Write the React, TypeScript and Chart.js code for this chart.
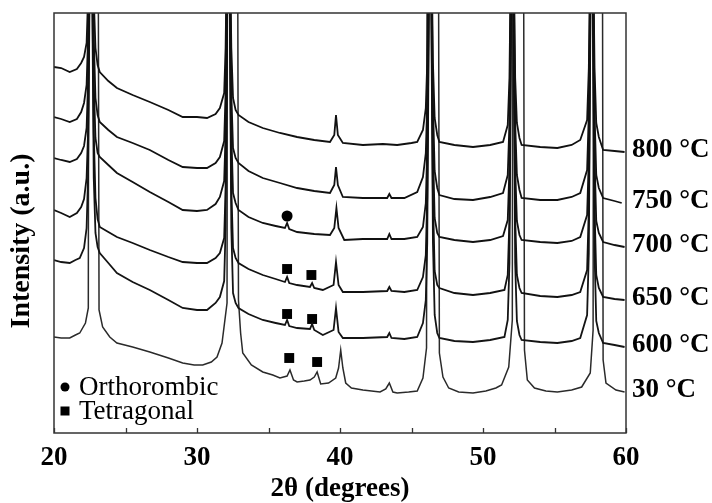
import React, { useEffect, useRef } from "react";
import { Chart, registerables } from "chart.js";

Chart.register(...registerables);

const FONT = '"Liberation Serif", "Times New Roman", Times, serif';

// X ticks (2θ, degrees)
const X_MIN = 20;
const X_MAX = 60;
const MAJOR_TICKS = [20, 30, 40, 50, 60];
const MINOR_TICKS = [25, 35, 45, 55];

// Curve labels (right side), top to bottom
const SERIES_LABELS = ["800 °C", "750 °C", "700 °C", "650 °C", "600 °C", "30 °C"];

// Intensity traces (arbitrary units, stacked offsets), [2θ, intensity]
const T800: [number, number][] = [
  [20.0, 366], [20.5, 365], [21.1, 361], [21.6, 364], [21.9, 370], [22.1, 376], [22.28, 390], [22.38, 435], [22.58, 600],
  [22.78, 435], [22.9, 385], [23.05, 368], [23.2, 361], [23.8, 352], [24.4, 345], [25.5, 338], [26.7, 331], [28.0, 323],
  [29.0, 316], [30.0, 316], [30.7, 315], [31.3, 319], [31.6, 325], [31.9, 340], [32.0, 385], [32.2, 600], [32.4, 385],
  [32.52, 335], [32.7, 323], [32.9, 318], [33.6, 311], [34.6, 305], [35.8, 300], [37.0, 296], [38.2, 293], [39.3, 291],
  [39.6, 298], [39.72, 318], [39.85, 298], [40.2, 290], [41.6, 288], [43.0, 289], [44.0, 288], [45.0, 290], [45.4, 291],
  [45.8, 303], [46.0, 325], [46.1, 370], [46.3, 600], [46.5, 370], [46.62, 315], [46.8, 298], [46.95, 291], [48.0, 288],
  [49.3, 286], [50.5, 288], [51.4, 291], [51.73, 308], [51.85, 355], [52.05, 600], [52.25, 355], [52.37, 310], [52.55, 295],
  [52.7, 288], [54.0, 286], [55.2, 285], [56.2, 288], [56.8, 293], [57.28, 313], [57.4, 365], [57.6, 600], [57.8, 365],
  [57.92, 310], [58.1, 296], [58.4, 283], [59.2, 282], [59.9, 281],
];

const T750: [number, number][] = [
  [20.0, 316], [20.5, 314], [21.1, 311], [21.6, 314], [21.9, 321], [22.1, 330], [22.28, 348], [22.38, 395], [22.58, 600],
  [22.78, 395], [22.9, 335], [23.05, 318], [23.2, 311], [23.8, 303], [24.4, 296], [25.5, 290], [26.7, 283], [28.0, 273],
  [29.0, 266], [30.0, 265], [30.7, 265], [31.3, 270], [31.6, 276], [31.9, 292], [32.0, 340], [32.2, 600], [32.4, 340],
  [32.52, 285], [32.7, 275], [32.9, 270], [33.6, 262], [34.6, 255], [35.8, 250], [37.0, 245], [38.2, 242], [39.3, 240],
  [39.6, 248], [39.72, 266], [39.85, 248], [40.2, 236], [41.6, 235], [43.3, 235], [43.45, 239], [43.6, 235], [44.5, 235],
  [45.4, 241], [45.8, 256], [46.0, 280], [46.1, 330], [46.3, 600], [46.5, 330], [46.62, 262], [46.8, 245], [46.95, 238],
  [48.0, 234], [49.3, 233], [50.5, 236], [51.4, 240], [51.73, 258], [51.85, 310], [52.05, 600], [52.25, 310], [52.37, 258],
  [52.55, 243], [52.7, 235], [54.0, 233], [55.2, 233], [56.2, 236], [56.8, 240], [57.28, 263], [57.4, 320], [57.6, 600],
  [57.8, 320], [57.92, 258], [58.1, 245], [58.4, 235], [59.2, 232], [59.7, 230],
];

const T700: [number, number][] = [
  [20.0, 275], [20.5, 273], [21.1, 271], [21.6, 274], [21.9, 280], [22.1, 287], [22.28, 305], [22.38, 350], [22.58, 600],
  [22.78, 350], [22.9, 295], [23.05, 280], [23.2, 276], [23.8, 268], [24.4, 260], [25.5, 251], [26.7, 241], [28.0, 231],
  [29.0, 223], [30.0, 222], [30.7, 223], [31.3, 229], [31.6, 236], [31.9, 252], [32.0, 300], [32.2, 600], [32.4, 300],
  [32.52, 240], [32.7, 230], [32.9, 223], [33.6, 216], [34.6, 210], [35.5, 207], [36.15, 205], [36.3, 210], [36.45, 204],
  [37.0, 201], [38.2, 199], [39.3, 198], [39.6, 205], [39.75, 225], [39.9, 205], [40.3, 193], [41.6, 194], [43.3, 194],
  [43.45, 199], [43.6, 194], [44.5, 194], [45.4, 196], [45.8, 206], [46.0, 230], [46.1, 285], [46.3, 600], [46.5, 285],
  [46.62, 215], [46.8, 200], [46.95, 196], [48.0, 193], [49.3, 191], [50.5, 193], [51.4, 197], [51.73, 213], [51.85, 265],
  [52.05, 600], [52.25, 265], [52.37, 212], [52.55, 198], [52.7, 193], [54.0, 191], [55.2, 190], [56.2, 192], [56.8, 196],
  [57.28, 218], [57.4, 275], [57.6, 600], [57.8, 275], [57.92, 212], [58.1, 200], [58.4, 191], [59.2, 188], [59.9, 186],
];

const T650: [number, number][] = [
  [20.0, 223], [20.5, 220], [21.1, 216], [21.6, 220], [21.9, 226], [22.1, 234], [22.28, 255], [22.38, 300], [22.58, 600],
  [22.78, 300], [22.9, 235], [23.05, 214], [23.2, 206], [23.8, 201], [24.4, 196], [25.5, 190], [26.7, 183], [28.0, 176],
  [29.0, 171], [30.0, 170], [30.7, 170], [31.3, 175], [31.6, 180], [31.9, 195], [32.0, 245], [32.2, 600], [32.4, 245],
  [32.52, 185], [32.7, 175], [32.9, 170], [33.6, 164], [34.6, 158], [35.5, 154], [36.15, 151], [36.3, 156], [36.45, 150],
  [37.0, 148], [37.9, 146], [38.05, 150], [38.2, 145], [38.8, 143], [39.55, 148], [39.72, 171], [39.9, 148], [40.2, 141],
  [41.6, 141], [43.3, 142], [43.45, 146], [43.6, 142], [44.5, 141], [45.4, 143], [45.8, 156], [46.0, 178], [46.1, 235],
  [46.3, 600], [46.5, 235], [46.62, 162], [46.8, 148], [46.95, 145], [48.0, 140], [49.3, 138], [50.5, 140], [51.5, 143],
  [51.73, 158], [51.85, 215], [52.05, 600], [52.25, 215], [52.37, 158], [52.55, 145], [52.7, 140], [54.0, 137], [55.2, 136],
  [56.2, 138], [56.8, 141], [57.28, 163], [57.4, 225], [57.6, 600], [57.8, 225], [57.92, 158], [58.1, 145], [58.4, 136],
  [59.2, 134], [59.9, 133],
];

const T600: [number, number][] = [
  [20.0, 173], [20.5, 171], [21.1, 170], [21.5, 173], [21.8, 175], [22.1, 185], [22.28, 205], [22.38, 255], [22.58, 600],
  [22.78, 255], [22.9, 200], [23.05, 186], [23.2, 180], [23.8, 170], [24.4, 160], [25.5, 151], [26.7, 143], [28.0, 133],
  [29.0, 125], [30.0, 123], [30.7, 123], [31.3, 130], [31.6, 136], [31.9, 152], [32.0, 205], [32.2, 600], [32.4, 205],
  [32.52, 140], [32.7, 130], [32.9, 125], [33.6, 119], [34.6, 113], [35.5, 110], [36.15, 108], [36.3, 113], [36.45, 107],
  [37.0, 105], [37.9, 104], [38.05, 109], [38.2, 103], [38.8, 98], [39.55, 103], [39.72, 125], [39.9, 101], [40.2, 95],
  [41.6, 95], [43.3, 96], [43.45, 100], [43.6, 95], [44.5, 94], [45.4, 96], [45.8, 110], [46.0, 133], [46.1, 190],
  [46.3, 600], [46.5, 190], [46.62, 118], [46.8, 100], [46.95, 95], [48.0, 92], [49.3, 91], [50.5, 93], [51.5, 96],
  [51.73, 113], [51.85, 170], [52.05, 600], [52.25, 170], [52.37, 112], [52.55, 98], [52.7, 93], [54.0, 91], [55.2, 90],
  [56.2, 92], [56.8, 95], [57.28, 118], [57.4, 180], [57.6, 600], [57.8, 180], [57.92, 112], [58.1, 100], [58.4, 90],
  [59.2, 88], [59.9, 86],
];

const T30: [number, number][] = [
  [20.0, 96], [20.5, 95], [21.1, 95], [21.5, 98], [21.8, 100], [22.2, 110], [22.4, 125], [22.5, 1400], [22.95, 1400],
  [23.15, 123], [23.4, 106], [23.9, 96], [24.4, 90], [25.5, 86], [26.7, 81], [28.0, 75], [29.0, 70], [29.8, 68],
  [30.4, 68], [31.0, 71], [31.4, 76], [31.75, 90], [32.1, 130], [32.2, 1400], [32.7, 1400], [32.9, 133], [33.05, 100],
  [33.2, 80], [33.8, 68], [34.6, 61], [35.3, 58], [35.8, 55], [36.3, 57], [36.5, 63], [36.75, 53], [37.0, 51],
  [37.5, 52], [37.9, 53], [38.2, 56], [38.4, 61], [38.65, 49], [39.2, 50], [39.7, 55], [39.9, 65], [40.05, 83],
  [40.2, 65], [40.4, 50], [40.8, 45], [41.6, 43], [42.8, 41], [43.2, 44], [43.45, 50], [43.7, 41], [44.0, 40],
  [44.8, 41], [45.4, 42], [45.8, 55], [46.05, 85], [46.2, 1400], [46.75, 1400], [46.95, 80], [47.2, 56], [47.6, 45],
  [48.3, 41], [49.3, 40], [50.2, 42], [50.9, 45], [51.3, 48], [51.8, 66], [52.05, 113], [52.15, 1400], [52.7, 1400],
  [52.9, 83], [53.1, 53], [53.6, 45], [54.4, 42], [55.2, 41], [56.2, 43], [56.9, 46], [57.5, 60], [57.7, 103],
  [57.8, 1400], [58.25, 1400], [58.4, 73], [58.6, 50], [59.3, 43], [59.9, 41],
];

const TRACES = [T800, T750, T700, T650, T600, T30];
const TRACE_COLORS = ["#111111", "#111111", "#111111", "#111111", "#141414", "#2a2a2a"];
const TRACE_WIDTHS = [1.8, 1.8, 1.8, 1.8, 1.8, 1.5];

// Phase markers
const ORTHO_X = [36.3];
const ORTHO_Y = [217];
const TETRA_X = [36.3, 38.0, 36.3, 38.05, 36.45, 38.4];
const TETRA_Y = [164, 158, 119, 114, 75, 71];

const LEGEND_ITEMS = ["Orthorombic", "Tetragonal"];

const overlayPlugin = {
  id: "overlay",
  afterDatasetsDraw(chart: any) {
    const { ctx, chartArea } = chart;
    const xs = chart.scales.x;
    const ys = chart.scales.y;
    const { left, right, top, bottom } = chartArea;
    ctx.save();
    // frame
    ctx.strokeStyle = "#333";
    ctx.lineWidth = 1.5;
    ctx.strokeRect(left, top, right - left, bottom - top);
    // inward ticks
    ctx.lineWidth = 1.3;
    ctx.beginPath();
    [...MAJOR_TICKS, ...MINOR_TICKS].forEach((v) => {
      const px = Math.round(xs.getPixelForValue(v)) + 0.5;
      ctx.moveTo(px, bottom);
      ctx.lineTo(px, bottom - 5);
    });
    ctx.stroke();

    // right labels
    ctx.fillStyle = "#000";
    ctx.font = `bold 27px ${FONT}`;
    ctx.textAlign = "left";
    ctx.textBaseline = "middle";
    TRACES.forEach((tr, i) => {
      const last = tr[tr.length - 1];
      const py = ys.getPixelForValue(last[1]) - 2;
      ctx.fillText(SERIES_LABELS[i], right + 6, py);
    });

    // legend
    ctx.font = `27px ${FONT}`;
    const lx = left + 11;
    const ly1 = bottom - 46;
    const ly2 = bottom - 22;
    ctx.beginPath();
    ctx.arc(lx, ly1, 4.5, 0, Math.PI * 2);
    ctx.fill();
    ctx.fillRect(lx - 4.5, ly2 - 4.5, 9, 9);
    ctx.fillText(LEGEND_ITEMS[0], lx + 14, ly1 + 1);
    ctx.fillText(LEGEND_ITEMS[1], lx + 14, ly2 + 1);

    // y title
    ctx.translate(22, 241);
    ctx.rotate(-Math.PI / 2);
    ctx.textAlign = "center";
    ctx.font = `bold 28px ${FONT}`;
    ctx.fillText("Intensity (a.u.)", 0, 0);
    ctx.restore();
  },
};

export default function App() {
  const ref = useRef<HTMLCanvasElement>(null);
  useEffect(() => {
    const canvas = ref.current;
    if (!canvas) return;
    const lineSets = TRACES.map((tr, i) => ({
      label: SERIES_LABELS[i],
      data: tr.map(([x, y]) => ({ x, y })),
      borderColor: TRACE_COLORS[i],
      borderWidth: TRACE_WIDTHS[i],
      pointRadius: 0,
      tension: 0,
      fill: false,
    }));
    const orthoSet = {
      label: "Orthorombic",
      data: ORTHO_X.map((x, i) => ({ x, y: ORTHO_Y[i] })),
      showLine: false,
      pointStyle: "circle",
      pointRadius: 5.5,
      pointBackgroundColor: "#000",
      pointBorderWidth: 0,
      borderColor: "#000",
    };
    const tetraSet = {
      label: "Tetragonal",
      data: TETRA_X.map((x, i) => ({ x, y: TETRA_Y[i] })),
      showLine: false,
      pointStyle: "rect",
      pointRadius: 7,
      pointBackgroundColor: "#000",
      pointBorderWidth: 0,
      borderColor: "#000",
    };
    const chart = new Chart(canvas, {
      type: "line",
      data: { datasets: [...lineSets, orthoSet, tetraSet] as any },
      options: {
        animation: false,
        responsive: false,
        maintainAspectRatio: false,
        layout: { padding: { left: 54, right: 86, top: 13, bottom: 0 } },
        plugins: { legend: { display: false }, tooltip: { enabled: false } },
        scales: {
          x: {
            type: "linear",
            min: X_MIN,
            max: X_MAX,
            afterFit: (s: any) => {
              s.height = 70;
            },
            afterBuildTicks: (s: any) => {
              s.ticks = MAJOR_TICKS.map((v) => ({ value: v }));
            },
            ticks: {
              color: "#000",
              font: { family: FONT, size: 27, weight: "bold" },
              padding: 9,
              autoSkip: false,
              maxRotation: 0,
            },
            grid: { display: false, drawTicks: false },
            border: { display: false },
            title: {
              display: true,
              text: "2θ (degrees)",
              color: "#000",
              font: { family: FONT, size: 27, weight: "bold", lineHeight: 1 },
              padding: 0,
            },
          },
          y: { display: false, min: 0, max: 420 },
        },
      } as any,
      plugins: [overlayPlugin],
    });
    return () => chart.destroy();
  }, []);
  return (
    <div style={{ position: "absolute", left: 0, top: 0, width: 712, height: 503, background: "#fff" }}>
      <canvas ref={ref} width={712} height={503} style={{ display: "block" }} />
    </div>
  );
}
